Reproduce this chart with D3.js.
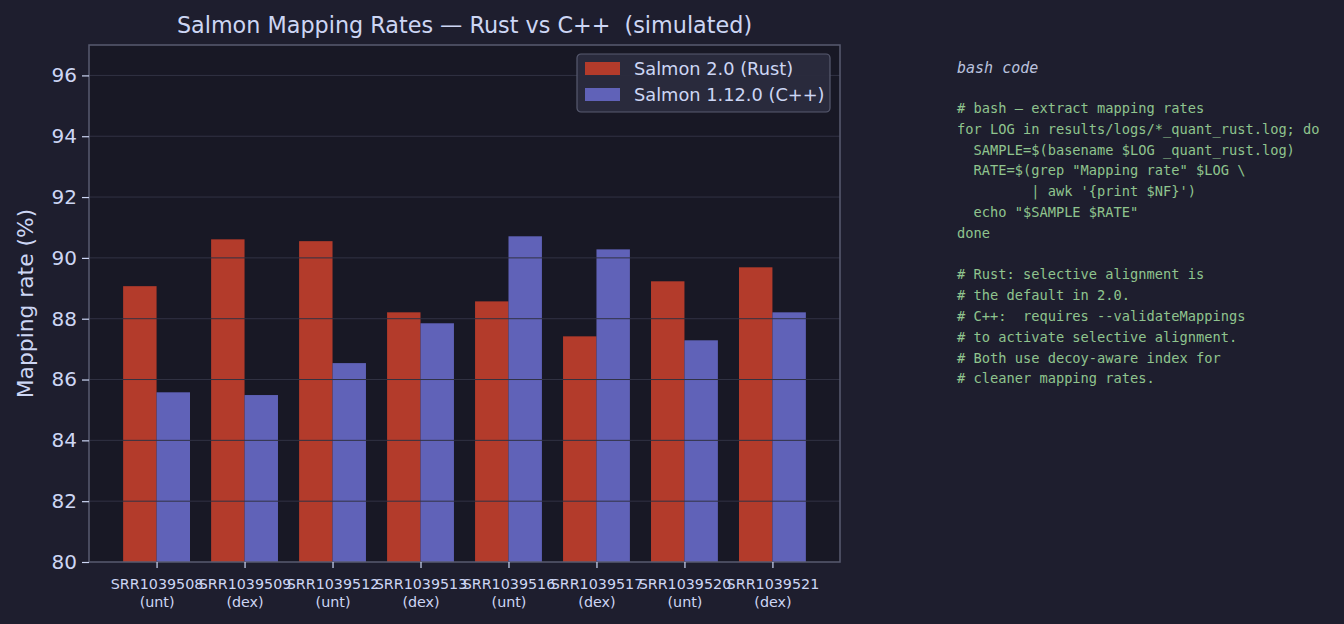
<!DOCTYPE html>
<html>
<head>
<meta charset="utf-8">
<script src="https://cdn.jsdelivr.net/npm/d3@7"></script>
<style>
  html, body { margin: 0; padding: 0; background: #1e1e2e; }
  svg { display: block; }
  text { white-space: pre; }
</style>
</head>
<body>
<svg id="chart" width="1344" height="624"></svg>
<script>
const samples = ["SRR1039508", "SRR1039509", "SRR1039512", "SRR1039513", "SRR1039516", "SRR1039517", "SRR1039520", "SRR1039521"];
const treatments = ["unt", "dex", "unt", "dex", "unt", "dex", "unt", "dex"];
const rustRates = [89.07, 90.61, 90.55, 88.21, 88.57, 87.42, 89.23, 89.69];
const cppRates = [85.58, 85.49, 86.54, 87.85, 90.71, 90.28, 87.29, 88.21];
const seriesNames = ["Salmon 2.0 (Rust)", "Salmon 1.12.0 (C++)"];
const yTicks = [80, 82, 84, 86, 88, 90, 92, 94, 96];
const codeTitle = "bash code";
const codeLines = [
  "# bash \u2014 extract mapping rates",
  "for LOG in results/logs/*_quant_rust.log; do",
  "  SAMPLE=$(basename $LOG _quant_rust.log)",
  "  RATE=$(grep \"Mapping rate\" $LOG \\",
  "         | awk '{print $NF}')",
  "  echo \"$SAMPLE $RATE\"",
  "done",
  "",
  "# Rust: selective alignment is",
  "# the default in 2.0.",
  "# C++:  requires --validateMappings",
  "# to activate selective alignment.",
  "# Both use decoy-aware index for",
  "# cleaner mapping rates."
];

const colors = { rust: "#b33b2b", cpp: "#6062b8", text: "#cdd6f4", axbg: "#181825", grid: "#313244", spine: "#585b70", code: "#a6e3a1", codeTitle: "#bac2de" };

const svg = d3.select("#chart");
const W = 1344, H = 624;
svg.append("rect").attr("width", W).attr("height", H).attr("fill", "#1e1e2e");

const m = { left: 89, right: 840, top: 45, bottom: 562 };
const barW = 0.38;
const n = samples.length;
const pad = 0.05 * ((n - 1) + 2 * barW);
const x = d3.scaleLinear().domain([-barW - pad, (n - 1) + barW + pad]).range([m.left, m.right]);
const y = d3.scaleLinear().domain([80, 97]).range([m.bottom, m.top]);

const font = "DejaVu Sans, sans-serif";

// axes background
svg.append("rect").attr("x", m.left).attr("y", m.top).attr("width", m.right - m.left).attr("height", m.bottom - m.top).attr("fill", colors.axbg);

// bars
const g = svg.append("g");
g.selectAll(".rust").data(rustRates).join("rect")
  .attr("x", (d, i) => x(i - barW))
  .attr("width", (d, i) => x(i) - x(i - barW))
  .attr("y", d => y(d))
  .attr("height", d => y(80) - y(d))
  .attr("fill", colors.rust);
g.selectAll(".cpp").data(cppRates).join("rect")
  .attr("x", (d, i) => x(i))
  .attr("width", (d, i) => x(i + barW) - x(i))
  .attr("y", d => y(d))
  .attr("height", d => y(80) - y(d))
  .attr("fill", colors.cpp);

// grid (drawn on top of bars)
svg.append("g").selectAll("line").data(yTicks.filter(t => t > 80)).join("line")
  .attr("x1", m.left).attr("x2", m.right)
  .attr("y1", d => y(d)).attr("y2", d => y(d))
  .attr("stroke", colors.grid).attr("stroke-width", 1);

// spines
svg.append("rect").attr("x", m.left).attr("y", m.top).attr("width", m.right - m.left).attr("height", m.bottom - m.top)
  .attr("fill", "none").attr("stroke", colors.spine).attr("stroke-width", 1.5);

// y axis
const yAxis = d3.axisLeft(y).tickValues(yTicks).tickSize(7).tickPadding(5).tickFormat(d3.format("d"));
const ya = svg.append("g").attr("transform", `translate(${m.left},0)`).call(yAxis);
ya.select(".domain").remove();
ya.selectAll("line").attr("stroke", colors.text).attr("stroke-width", 1.2);
ya.selectAll("text").attr("fill", colors.text).attr("font-family", font).attr("font-size", "20px");

// x axis
const xAxis = d3.axisBottom(x).tickValues(d3.range(n)).tickSize(6).tickPadding(4).tickFormat(() => "");
const xa = svg.append("g").attr("transform", `translate(0,${m.bottom})`).call(xAxis);
xa.select(".domain").remove();
xa.selectAll("line").attr("stroke", colors.text).attr("stroke-width", 1.2);
xa.selectAll(".tick").each(function(d) {
  const t = d3.select(this).append("text").attr("fill", colors.text).attr("font-family", font).attr("font-size", "14.3px").attr("text-anchor", "middle");
  t.append("tspan").attr("x", 0).attr("y", 27).text(samples[d]);
  t.append("tspan").attr("x", 0).attr("y", 45).text("(" + treatments[d] + ")");
});

// y label
svg.append("text").attr("transform", `translate(33,${(m.top + m.bottom) / 2}) rotate(-90)`)
  .attr("text-anchor", "middle").attr("fill", colors.text).attr("font-family", font).attr("font-size", "21.8px")
  .text("Mapping rate (%)");

// title
svg.append("text").attr("x", (m.left + m.right) / 2).attr("y", 33).attr("text-anchor", "middle")
  .attr("fill", colors.text).attr("font-family", font).attr("font-size", "22.3px").text("Salmon Mapping Rates \u2014 Rust vs C++  (simulated)");

// legend
const lg = svg.append("g").attr("transform", "translate(577,54)");
lg.append("rect").attr("width", 253).attr("height", 58).attr("rx", 4)
  .attr("fill", "#2a2b3d").attr("fill-opacity", 0.95).attr("stroke", "#585b70").attr("stroke-width", 1.2);
[colors.rust, colors.cpp].forEach((c, i) => {
  lg.append("rect").attr("x", 8).attr("y", 8 + i * 26).attr("width", 35).attr("height", 13).attr("fill", c);
  lg.append("text").attr("x", 57).attr("y", 21 + i * 26).attr("fill", colors.text).attr("font-family", font).attr("font-size", "17.8px").text(seriesNames[i]);
});

// code panel
const code = svg.append("g").attr("font-family", "DejaVu Sans Mono, monospace").attr("font-size", "13.7px");
code.append("text").attr("x", 957).attr("y", 73).attr("fill", colors.codeTitle).attr("font-style", "italic").attr("font-size", "15px").text(codeTitle);
code.selectAll(".cl").data(codeLines).join("text")
  .attr("x", 957).attr("y", (d, i) => 113 + i * 20.8)
  .attr("fill", colors.code).attr("fill-opacity", 0.85)
  .text(d => d);
</script>
</body>
</html>
